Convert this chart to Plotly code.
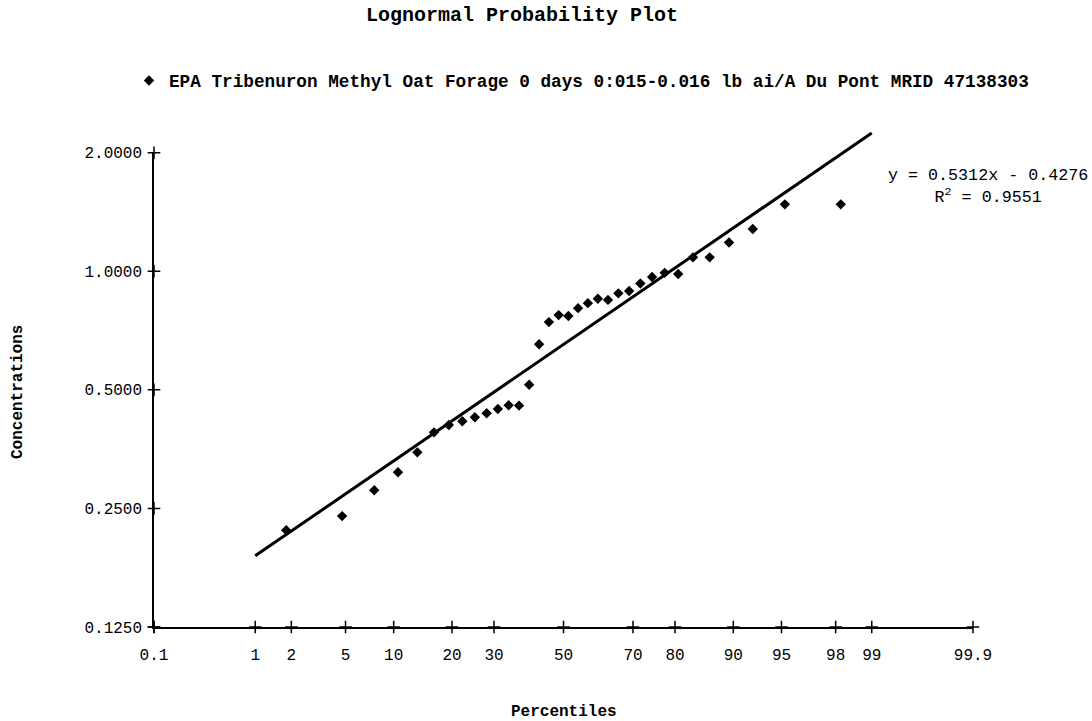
import math
from statistics import NormalDist
import plotly.graph_objects as go

# ---- data ----
percentiles = [1.82, 4.74, 7.66, 10.58, 13.50, 16.42, 19.34, 22.26, 25.18, 28.10,
               31.02, 33.94, 36.86, 39.78, 42.70, 45.62, 48.54, 51.46, 54.38, 57.30,
               60.22, 63.14, 66.06, 68.98, 71.90, 74.82, 77.74, 80.66, 83.58, 86.50,
               89.42, 92.34, 95.26, 98.18]
concentrations = [0.220, 0.239, 0.278, 0.309, 0.347, 0.390, 0.407, 0.416, 0.426, 0.436,
                  0.447, 0.457, 0.456, 0.515, 0.653, 0.743, 0.774, 0.770, 0.806, 0.830,
                  0.852, 0.846, 0.879, 0.891, 0.931, 0.967, 0.991, 0.984, 1.085, 1.085,
                  1.183, 1.280, 1.479, 1.479]

# trendline: ln(y) = slope * z + intercept
trend_slope = 0.5312
trend_intercept = -0.4276
trend_percentiles = [1, 99]

x_tick_pcts = [0.1, 1, 2, 5, 10, 20, 30, 50, 70, 80, 90, 95, 98, 99, 99.9]
x_tick_labels = ["0.1", "1", "2", "5", "10", "20", "30", "50", "70", "80", "90", "95", "98", "99", "99.9"]
y_tick_vals = [0.125, 0.25, 0.5, 1.0, 2.0]
y_tick_labels = ["0.1250", "0.2500", "0.5000", "1.0000", "2.0000"]

series_name = "<b>EPA Tribenuron Methyl Oat Forage 0 days 0:015-0.016 lb ai/A Du Pont MRID 47138303</b>"

# ---- probability-scale transform ----
nd = NormalDist()
def zscore(p):
    return nd.inv_cdf(p / 100.0)

xz = [zscore(p) for p in percentiles]
tz = [zscore(p) for p in trend_percentiles]
ty = [math.exp(trend_slope * z + trend_intercept) for z in tz]
xt = [zscore(p) for p in x_tick_pcts]

MONO = "Liberation Mono, Courier New, monospace"

# main axis covers 0.125..2 (4 doublings); the trendline's own axis extends
# 0.2 doublings higher so the line can overshoot the top tick as in the original
y_lo = math.log10(y_tick_vals[0])
y_hi = math.log10(y_tick_vals[-1])
extra = 0.2 * math.log10(2)
main_frac = (y_hi - y_lo) / (y_hi - y_lo + extra)

fig = go.Figure()

fig.add_trace(go.Scatter(
    x=tz, y=ty, mode="lines", line=dict(color="black", width=3), yaxis="y2",
    showlegend=False, hoverinfo="skip"))

fig.add_trace(go.Scatter(
    x=xz, y=concentrations, mode="markers", name=series_name,
    marker=dict(symbol="diamond", size=8, color="black")))

# cross-shaped tick marks on both axes
fig.add_trace(go.Scatter(
    x=xt, y=[y_tick_vals[0]] * len(xt), mode="markers", cliponaxis=False,
    marker=dict(symbol="cross-thin", size=9, line=dict(color="black", width=1.5)),
    showlegend=False, hoverinfo="skip"))
fig.add_trace(go.Scatter(
    x=[xt[0]] * len(y_tick_vals), y=y_tick_vals, mode="markers", cliponaxis=False,
    marker=dict(symbol="cross-thin", size=9, line=dict(color="black", width=1.5)),
    showlegend=False, hoverinfo="skip"))

eps = 1e-6
fig.update_layout(
    xaxis=dict(
        range=[xt[0] - eps, xt[-1] + eps], tickvals=xt, ticktext=x_tick_labels,
        showgrid=False, zeroline=False, showline=True, linecolor="black", linewidth=1.5,
        ticks="", ticklabelstandoff=12, anchor="y",
        tickfont=dict(family=MONO, size=16, color="black")),
    yaxis=dict(
        type="log", range=[y_lo - eps, y_hi + eps], domain=[0, main_frac],
        tickvals=y_tick_vals, ticktext=y_tick_labels,
        showgrid=False, zeroline=False, showline=True, linecolor="black", linewidth=1.5,
        ticks="", ticklabelstandoff=7,
        tickfont=dict(family=MONO, size=16, color="black")),
    yaxis2=dict(
        type="log", range=[y_lo - eps, y_hi + extra], domain=[0, 1], anchor="x",
        visible=False, showgrid=False, zeroline=False),
)

fig.update_layout(
    width=1092, height=721,
    margin=dict(l=154, r=119, t=129, b=94),
    paper_bgcolor="white", plot_bgcolor="rgba(0,0,0,0)",
    title=dict(text="<b>Lognormal Probability Plot</b>", xref="container", x=0.478,
               yref="container", y=1 - 14 / 721, xanchor="center", yanchor="middle",
               font=dict(family=MONO, size=20, color="black")),
    showlegend=True,
    legend=dict(orientation="h", xref="container", x=129 / 1092, yref="container",
                y=1 - 81 / 721, xanchor="left", yanchor="middle",
                font=dict(family=MONO, size=17.7, color="black"),
                bgcolor="rgba(0,0,0,0)", itemwidth=30),
    annotations=[
        dict(text="y = 0.5312x - 0.4276<br>R<sup>2</sup> = 0.9551", xref="paper", yref="paper",
             x=1, y=1, xshift=(988 - 973), yshift=-(186 - 129), xanchor="center", yanchor="middle",
             showarrow=False, align="center",
             font=dict(family=MONO, size=16.7, color="black")),
        dict(text="<b>Percentiles</b>", xref="paper", yref="paper", x=0.5, y=0,
             yshift=-(712 - 627), xanchor="center", yanchor="middle", showarrow=False,
             font=dict(family=MONO, size=16, color="black")),
        dict(text="<b>Concentrations</b>", xref="paper", yref="paper", x=0, y=0,
             xshift=-136, yshift=(627 - 392), xanchor="center", yanchor="middle",
             textangle=-90, showarrow=False,
             font=dict(family=MONO, size=16, color="black")),
    ],
)

fig.write_html("out.html")
